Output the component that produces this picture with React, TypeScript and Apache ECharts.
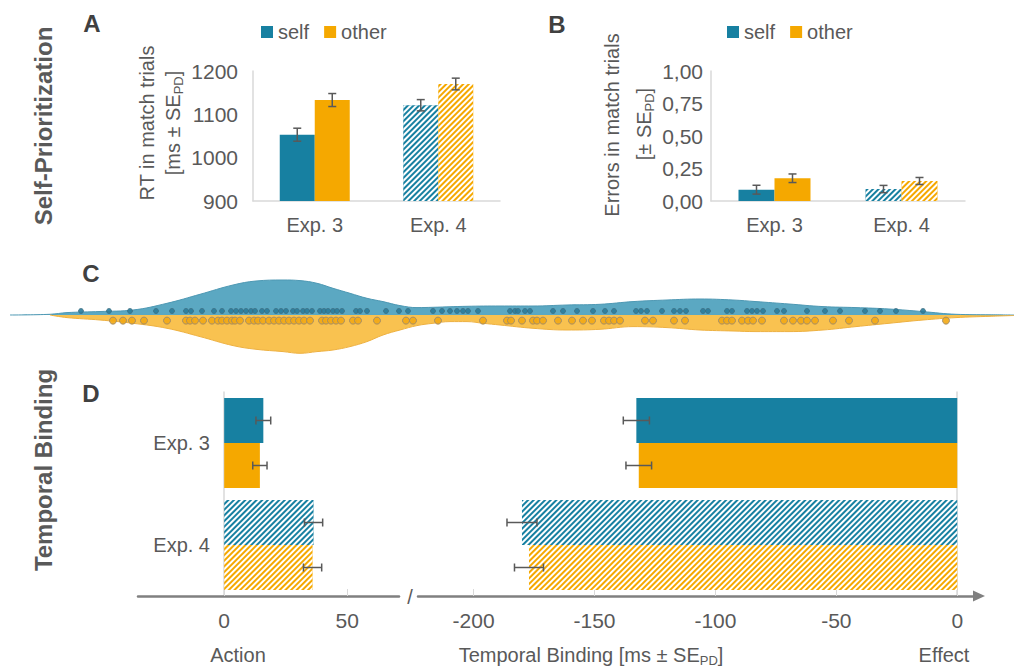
import React, { useEffect, useRef } from "react";
import * as echarts from "echarts";

// ---------- data ----------
const categories = ["Exp. 3", "Exp. 4"];
const hatched = [false, true];

// Panel A: RT in match trials [ms]
const rtSelf = [1053, 1121];
const rtOther = [1133, 1170];
const rtSelfSE = [15, 13];
const rtOtherSE = [15, 13.5];
const rtTicks = [900, 1000, 1100, 1200];

// Panel B: errors in match trials
const errSelf = [0.087, 0.092];
const errOther = [0.175, 0.154];
const errSelfSE = [0.034, 0.028];
const errOtherSE = [0.033, 0.027];

// Panel D: temporal binding [ms]
const actionSelf = [15.9, 36.3];
const actionOther = [14.5, 35.9];
const actionSelfSE = [3.0, 3.7];
const actionOtherSE = [2.9, 3.7];
const effectSelf = [-132.7, -180.0];
const effectOther = [-131.7, -177.1];
const effectSelfSE = [5.4, 6.2];
const effectOtherSE = [5.3, 6.0];
const actionTicks = [0, 50];
const effectTicks = [-200, -150, -100, -50, 0];

// Panel C: density curves (x, density) and individual points
const densitySelf = [
  [0, 0], [4, 0.7], [5.7, 2.4], [9, 3.5], [12.3, 5], [15.7, 11.7], [19, 20.7], [22.3, 30],
  [24.6, 34], [27.3, 35], [29, 34.4], [30.7, 31.7], [32.3, 26.7], [34, 21.7], [35.7, 16.7],
  [37.3, 13.4], [39, 9.4], [40.7, 7.4], [42.3, 7.7], [45.7, 8.7], [49, 9], [52.3, 9],
  [55.7, 10], [59, 10.7], [62.3, 13.4], [65.7, 15], [69, 16], [72.3, 15], [74.6, 13.4],
  [77.9, 11], [81.3, 8.4], [84.6, 7.4], [87.9, 6], [91.3, 3.4], [94.6, 0.7], [98, 0.2], [100.4, 0],
];
const densityOther = [
  [4, 0], [5.7, -2.6], [9, -5], [12.3, -8.3], [15.7, -13.3], [19, -21.6], [22.3, -30.6],
  [24.6, -34.3], [27.3, -36.6], [29, -38.3], [30.7, -36.6], [32.3, -35], [34, -31.6],
  [35.7, -26.6], [37.3, -20], [39, -15], [40.7, -10.6], [42.3, -8.3], [44, -6.6], [45.7, -6.6],
  [47.3, -8.3], [49, -10], [52.3, -13.3], [55.7, -15], [59, -14.3], [62.3, -11.6], [65.7, -12.6],
  [69, -15], [72.3, -16], [74.6, -16.6], [77.9, -16.6], [81.3, -15], [84.6, -11.6], [87.9, -8.3],
  [91.3, -5], [94.6, -2.6], [98, -1.3], [100.4, -0.5],
];
const dotsSelf = [
  7.1, 9.9, 12, 14.6, 16.2, 17.6, 18.1, 19.2, 20.4, 21.2, 22.1, 22.6, 23.1, 23.6, 24.1, 24.5,
  25.2, 25.7, 26.6, 27.1, 27.6, 28.3, 28.7, 29.3, 29.7, 30.2, 31, 31.4, 31.8, 32.3, 32.7, 33.2,
  34.6, 35, 35.7, 37.6, 38.9, 39.8, 42.3, 43.2, 44, 44.7, 45.3, 45.8, 46.8, 50, 50.5, 50.8,
  51.5, 52, 54.3, 55.3, 56.7, 58.3, 59.5, 60.4, 62.6, 63.1, 63.7, 65.2, 66.4, 67, 67.6, 69.3,
  69.8, 71.7, 72.2, 73.7, 74.2, 74.7, 75.3, 76.7, 77.4, 79.7, 81.5, 83, 85.5, 87, 88.6, 91.3,
];
const dotsOther = [
  10.3, 11.3, 12.2, 13.4, 15.7, 17.6, 18, 18.5, 19.3, 20.2, 20.8, 21.2, 21.7, 22.2, 22.5, 23,
  23.9, 24.4, 24.8, 25.3, 25.9, 26.4, 26.9, 27.4, 27.9, 28.4, 28.9, 29.4, 30, 31.2, 31.6, 32.1,
  32.6, 33.1, 34.3, 34.8, 36.7, 39.6, 40.3, 42.8, 47.3, 49.7, 50.1, 51.2, 52.3, 52.7, 53.3,
  54.8, 56.2, 57.3, 58.2, 59.4, 59.9, 60.4, 61, 63.5, 64.3, 66.4, 67.5, 71.2, 71.7, 72.2, 73.2,
  73.8, 74.3, 75.2, 77.4, 78.3, 79.1, 79.7, 80.5, 82.3, 83.9, 86.5, 93.6,
];

// ---------- styles ----------
const TEAL = "#1780A1";
const ORANGE = "#F5A800";
const TEAL_AREA = "#5BA8C2";
const ORANGE_AREA = "#F9C250";
const LIGHT = "#D9D9D9";
const DARK = "#808080";
const TEXT = "#595959";
const FONT = "'Liberation Sans', Arial, sans-serif";

const HATCH = {
  symbol: "rect",
  symbolSize: 1,
  color: "#ffffff",
  dashArrayX: [1, 0],
  dashArrayY: [2, 2],
  rotation: -Math.PI / 4,
};

function barData(values: number[]) {
  return values.map((v, i) => (hatched[i] ? { value: v, itemStyle: { decal: HATCH } } : { value: v }));
}

function errBars(
  values: number[],
  se: number[],
  axisIdx: number,
  offset: number,
  horizontal: boolean
) {
  return {
    type: "custom",
    xAxisIndex: axisIdx,
    yAxisIndex: axisIdx,
    z: 5,
    silent: true,
    encode: horizontal ? { x: [1, 2], y: 0 } : { x: 0, y: [1, 2] },
    data: values.map((v, i) => [i, v - se[i], v + se[i]]),
    renderItem: (params: any, api: any) => {
      const i = api.value(0);
      const lo = api.value(1);
      const hi = api.value(2);
      const cap = 4;
      const style = { stroke: TEXT, lineWidth: 1.5 };
      if (!horizontal) {
        const a = api.coord([i, lo]);
        const b = api.coord([i, hi]);
        const x = a[0] + offset;
        return {
          type: "group",
          children: [
            { type: "line", shape: { x1: x, y1: a[1], x2: x, y2: b[1] }, style },
            { type: "line", shape: { x1: x - cap, y1: a[1], x2: x + cap, y2: a[1] }, style },
            { type: "line", shape: { x1: x - cap, y1: b[1], x2: x + cap, y2: b[1] }, style },
          ],
        };
      }
      const a = api.coord([lo, i]);
      const b = api.coord([hi, i]);
      const y = a[1] + offset;
      return {
        type: "group",
        children: [
          { type: "line", shape: { x1: a[0], y1: y, x2: b[0], y2: y }, style },
          { type: "line", shape: { x1: a[0], y1: y - cap, x2: a[0], y2: y + cap }, style },
          { type: "line", shape: { x1: b[0], y1: y - cap, x2: b[0], y2: y + cap }, style },
        ],
      };
    },
  };
}

const subRich = {
  b: { fontSize: 20, fontFamily: FONT, fill: TEXT, color: TEXT, lineHeight: 24 },
  s: { fontSize: 13, fontFamily: FONT, fill: TEXT, color: TEXT, lineHeight: 8, verticalAlign: "bottom" },
};

function txt(text: string, x: number, y: number, size: number, opts: any = {}) {
  return {
    type: "text",
    x,
    y,
    rotation: opts.rotation || 0,
    silent: true,
    style: {
      text,
      fill: opts.color || TEXT,
      font: `${opts.bold ? "bold " : ""}${size}px ${FONT}`,
      align: opts.align || "center",
      verticalAlign: "middle",
      rich: opts.rich,
    },
  };
}

export default function App() {
  const ref = useRef<HTMLDivElement>(null);

  useEffect(() => {
    if (!ref.current) return;
    const chart = echarts.init(ref.current, undefined, { renderer: "svg" });

    const catAxisTop = (idx: number) => ({
      type: "category",
      gridIndex: idx,
      data: categories,
      axisLine: { lineStyle: { color: LIGHT, width: 1.5 } },
      axisTick: { show: false },
      axisLabel: { fontSize: 20, color: TEXT, fontFamily: FONT, margin: 14 },
    });

    const option: any = {
      animation: false,
      textStyle: { fontFamily: FONT },
      grid: [
        { left: 253, top: 71, width: 247, height: 130 },
        { left: 711, top: 71, width: 254, height: 130 },
        { left: 10, top: 270, width: 1004, height: 90 },
        { left: 138, top: 392, width: 261, height: 204 },
        { left: 418, top: 392, width: 561, height: 204 },
      ],
      legend: [0, 1].map((k) => ({
        data: ["self", "other"],
        left: k === 0 ? 256 : 722,
        top: 17,
        icon: "rect",
        itemWidth: 12,
        itemHeight: 12,
        itemGap: 15,
        selectedMode: false,
        textStyle: { fontSize: 20, color: TEXT, fontFamily: FONT },
      })),
      xAxis: [
        catAxisTop(0),
        catAxisTop(1),
        { type: "value", gridIndex: 2, min: 0, max: 100.4, show: false },
        {
          type: "value",
          gridIndex: 3,
          min: -35,
          max: 71,
          splitLine: { show: false },
          axisLine: { show: true, lineStyle: { color: DARK, width: 2.5 } },
          axisTick: { show: true, inside: true, length: 7, lineStyle: { color: LIGHT }, customValues: actionTicks },
          axisLabel: { fontSize: 21, color: TEXT, fontFamily: FONT, margin: 14, customValues: actionTicks },
        },
        {
          type: "value",
          gridIndex: 4,
          min: -223,
          max: 9,
          splitLine: { show: false },
          axisLine: {
            show: true,
            symbol: ["none", "triangle"],
            symbolSize: [11, 12],
            lineStyle: { color: DARK, width: 2.5 },
          },
          axisTick: { show: true, inside: true, length: 7, lineStyle: { color: LIGHT }, customValues: effectTicks },
          axisLabel: { fontSize: 21, color: TEXT, fontFamily: FONT, margin: 14, customValues: effectTicks },
        },
      ],
      yAxis: [
        {
          type: "value",
          gridIndex: 0,
          min: rtTicks[0],
          max: rtTicks[rtTicks.length - 1],
          interval: 100,
          splitLine: { show: false },
          axisLine: { show: true, lineStyle: { color: LIGHT, width: 1.5 } },
          axisLabel: { fontSize: 21, color: TEXT, fontFamily: FONT, margin: 15, formatter: (v: number) => String(v) },
        },
        {
          type: "value",
          gridIndex: 1,
          min: 0,
          max: 1,
          interval: 0.25,
          splitLine: { show: false },
          axisLine: { show: true, lineStyle: { color: LIGHT, width: 1.5 } },
          axisLabel: {
            fontSize: 21,
            color: TEXT,
            fontFamily: FONT,
            margin: 8,
            formatter: (v: number) => v.toFixed(2).replace(".", ","),
          },
        },
        { type: "value", gridIndex: 2, min: -45, max: 45, show: false },
        {
          type: "category",
          gridIndex: 3,
          data: categories,
          inverse: true,
          axisLine: { show: true, onZero: true, lineStyle: { color: LIGHT, width: 1.5 } },
          axisTick: { show: false },
          axisLabel: { fontSize: 20, color: TEXT, fontFamily: FONT, margin: -72 },
        },
        {
          type: "category",
          gridIndex: 4,
          data: categories,
          inverse: true,
          axisLine: { show: true, onZero: true, lineStyle: { color: LIGHT, width: 1.5 } },
          axisTick: { show: false },
          axisLabel: { show: false },
        },
      ],
      series: [
        // Panel A
        { type: "bar", name: "self", xAxisIndex: 0, yAxisIndex: 0, barWidth: 35, barGap: "0%", itemStyle: { color: TEAL }, data: barData(rtSelf) },
        { type: "bar", name: "other", xAxisIndex: 0, yAxisIndex: 0, barWidth: 35, barGap: "0%", itemStyle: { color: ORANGE }, data: barData(rtOther) },
        errBars(rtSelf, rtSelfSE, 0, -17.5, false),
        errBars(rtOther, rtOtherSE, 0, 17.5, false),
        // Panel B
        { type: "bar", name: "self", xAxisIndex: 1, yAxisIndex: 1, barWidth: 36, barGap: "0%", itemStyle: { color: TEAL }, data: barData(errSelf) },
        { type: "bar", name: "other", xAxisIndex: 1, yAxisIndex: 1, barWidth: 36, barGap: "0%", itemStyle: { color: ORANGE }, data: barData(errOther) },
        errBars(errSelf, errSelfSE, 1, -18, false),
        errBars(errOther, errOtherSE, 1, 18, false),
        // Panel C
        {
          type: "line",
          xAxisIndex: 2,
          yAxisIndex: 2,
          data: densitySelf,
          smooth: 0.4,
          showSymbol: false,
          silent: true,
          z: 1,
          lineStyle: { color: "#4E98B3", width: 1 },
          areaStyle: { color: TEAL_AREA, opacity: 1 },
        },
        {
          type: "line",
          xAxisIndex: 2,
          yAxisIndex: 2,
          data: densityOther,
          smooth: 0.4,
          showSymbol: false,
          silent: true,
          z: 1,
          lineStyle: { color: "#EDB040", width: 1 },
          areaStyle: { color: ORANGE_AREA, opacity: 1 },
        },
        {
          type: "scatter",
          xAxisIndex: 2,
          yAxisIndex: 2,
          symbolSize: 5,
          silent: true,
          z: 10,
          itemStyle: { color: "#2A7C9B", borderColor: "#3D6B7D", borderWidth: 0.8, opacity: 0.9 },
          data: dotsSelf.map((x) => [x, 4]),
        },
        {
          type: "scatter",
          xAxisIndex: 2,
          yAxisIndex: 2,
          symbolSize: 7,
          silent: true,
          z: 10,
          itemStyle: { color: "#F2A914", borderColor: "#9C8A6C", borderWidth: 1, opacity: 0.9 },
          data: dotsOther.map((x) => [x, -5.6]),
        },
        // Panel D - action
        { type: "bar", name: "self", xAxisIndex: 3, yAxisIndex: 3, barWidth: 45, barGap: "0%", itemStyle: { color: TEAL }, data: barData(actionSelf) },
        { type: "bar", name: "other", xAxisIndex: 3, yAxisIndex: 3, barWidth: 45, barGap: "0%", itemStyle: { color: ORANGE }, data: barData(actionOther) },
        errBars(actionSelf, actionSelfSE, 3, -22.5, true),
        errBars(actionOther, actionOtherSE, 3, 22.5, true),
        // Panel D - effect
        { type: "bar", name: "self", xAxisIndex: 4, yAxisIndex: 4, barWidth: 45, barGap: "0%", itemStyle: { color: TEAL }, data: barData(effectSelf) },
        { type: "bar", name: "other", xAxisIndex: 4, yAxisIndex: 4, barWidth: 45, barGap: "0%", itemStyle: { color: ORANGE }, data: barData(effectOther) },
        errBars(effectSelf, effectSelfSE, 4, -22.5, true),
        errBars(effectOther, effectOtherSE, 4, 22.5, true),
      ],
      graphic: [
        txt("Self-Prioritization", 43, 126, 24, { bold: true, rotation: Math.PI / 2 }),
        txt("Temporal Binding", 43, 470, 24, { bold: true, rotation: Math.PI / 2 }),
        txt("A", 92, 23, 24, { bold: true, color: "#404040" }),
        txt("B", 557, 24, 24, { bold: true, color: "#404040" }),
        txt("C", 91, 273, 24, { bold: true, color: "#404040" }),
        txt("D", 91, 393, 24, { bold: true, color: "#404040" }),
        txt("RT in match trials", 147, 123, 20, { rotation: Math.PI / 2 }),
        txt("{b|[ms ± SE}{s|PD}{b|]}", 173, 123, 20, { rotation: Math.PI / 2, rich: subRich }),
        txt("Errors in match trials", 612, 125, 20, { rotation: Math.PI / 2 }),
        txt("{b|[± SE}{s|PD}{b|]}", 644, 124, 20, { rotation: Math.PI / 2, rich: subRich }),
        txt("/", 410, 597, 20),
        txt("Action", 238, 655, 20),
        txt("{b|Temporal Binding [ms ± SE}{s|PD}{b|]}", 591, 655, 20, { rich: subRich }),
        txt("Effect", 944, 655, 20),
      ],
    };

    chart.setOption(option);
    return () => chart.dispose();
  }, []);

  return (
    <div
      ref={ref}
      style={{ position: "absolute", left: 0, top: 0, width: 1014, height: 670, background: "#fff" }}
    />
  );
}
